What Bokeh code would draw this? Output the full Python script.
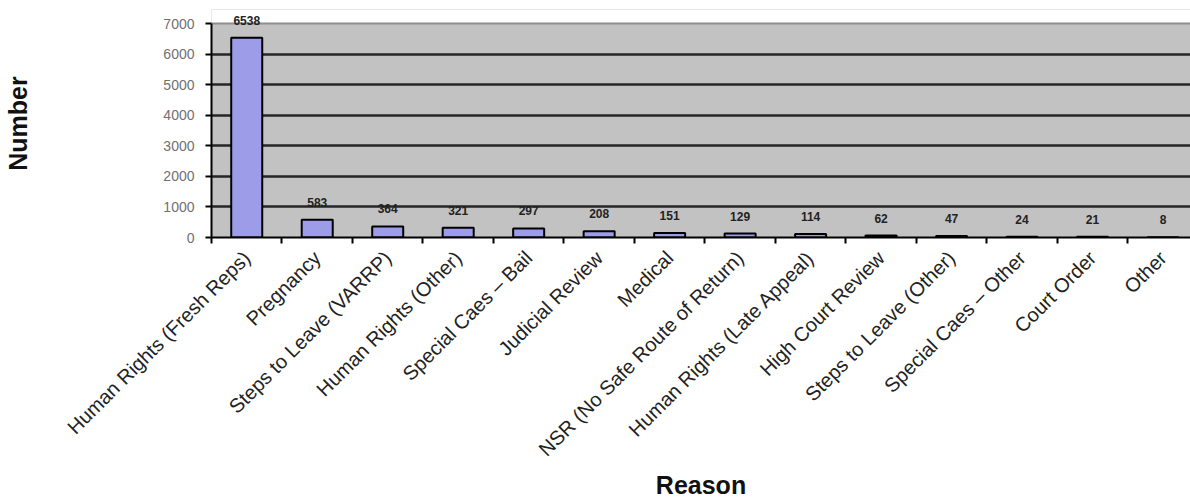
import math
from bokeh.plotting import figure
from bokeh.models import Range1d, LinearAxis, FixedTicker, Grid, ColumnDataSource, BoxAnnotation
from bokeh.core.properties import value
from bokeh.embed import file_html
from bokeh.resources import INLINE

categories = [
    "Human Rights (Fresh Reps)", "Pregnancy", "Steps to Leave (VARRP)",
    "Human Rights (Other)", "Special Caes \u2013 Bail", "Judicial Review",
    "Medical", "NSR (No Safe Route of Return)", "Human Rights (Late Appeal)",
    "High Court Review", "Steps to Leave (Other)", "Special Caes \u2013 Other",
    "Court Order", "Other",
]
values = [6538, 583, 364, 321, 297, 208, 151, 129, 114, 62, 47, 24, 21, 8]
y_ticks = [0, 1000, 2000, 3000, 4000, 5000, 6000, 7000]

FONT = "Liberation Sans"
n = len(categories)
xs = [i + 0.5 for i in range(n)]
src = ColumnDataSource(dict(x=xs, v=values, lab=[str(v) for v in values], cat=categories))

p = figure(
    frame_width=979, frame_height=228,
    x_range=Range1d(0, 13.89), y_range=Range1d(0, 7460),
    x_axis_location=None, y_axis_location=None,
    output_backend="svg", toolbar_location=None,
    min_border_left=211, min_border_right=0, min_border_top=9, min_border_bottom=0,
    background_fill_color="#c2c2c2", border_fill_color="white",
)
p.outline_line_color = None
for g in p.grid:
    g.visible = False

# white area above the plot's top value
p.add_layout(BoxAnnotation(bottom=y_ticks[-1], fill_color="white", fill_alpha=1,
                           line_color=None, level="underlay"))

# gridlines
p.add_layout(Grid(dimension=1, ticker=FixedTicker(ticks=y_ticks[1:-1]),
                  grid_line_color="#262626", grid_line_width=2.5))
p.add_layout(Grid(dimension=1, ticker=FixedTicker(ticks=y_ticks[-1:]),
                  grid_line_color="#8e8e8e", grid_line_width=2))

# y axis
yax = LinearAxis(
    ticker=FixedTicker(ticks=y_ticks), bounds=(y_ticks[0], y_ticks[-1]),
    axis_line_color="black", axis_line_width=2,
    major_tick_line_color="black", major_tick_line_width=2,
    major_tick_out=6, major_tick_in=0, minor_tick_out=0, minor_tick_in=0,
    major_label_standoff=11,
    major_label_text_font=FONT, major_label_text_font_size="14px",
    major_label_text_color="#707070",
    axis_label="Number", axis_label_text_font=FONT,
    axis_label_text_font_size="25px", axis_label_text_font_style="bold",
    axis_label_text_color="#111111", axis_label_standoff=128,
)
p.add_layout(yax, "left")

# x axis: boundary tick marks
xtick = LinearAxis(
    ticker=FixedTicker(ticks=list(range(n))),
    axis_line_color="black", axis_line_width=2,
    major_tick_line_color="black", major_tick_line_width=2,
    major_tick_out=6, major_tick_in=0, minor_tick_out=0, minor_tick_in=0,
    major_label_text_font_size="1px", major_label_text_alpha=0,
    major_label_standoff=0,
)
p.add_layout(xtick, "below")

# x axis: category labels
xlab = LinearAxis(
    ticker=FixedTicker(ticks=xs),
    major_label_overrides={x: c for x, c in zip(xs, categories)},
    axis_line_color=None, major_tick_line_color=None,
    major_tick_out=0, major_tick_in=0, minor_tick_out=0, minor_tick_in=0,
    major_label_orientation=math.pi / 4, major_label_standoff=11,
    major_label_text_font=FONT, major_label_text_font_size="20px",
    major_label_text_color="#222222",
    axis_label="Reason", axis_label_text_font=FONT,
    axis_label_text_font_size="25px", axis_label_text_font_style="bold",
    axis_label_text_color="#111111", axis_label_standoff=0,
)
p.add_layout(xlab, "below")

p.vbar(x="x", top="v", width=0.44, source=src,
       fill_color="#9c9ce8", line_color="black", line_width=2)

p.text(x="x", y="v", text="lab", source=src, y_offset=-13,
       text_align="center", text_baseline="bottom",
       text_font=value(FONT), text_font_size="12px", text_font_style="bold",
       text_color="#222222")

open("out.html", "w").write(file_html(p, INLINE))
